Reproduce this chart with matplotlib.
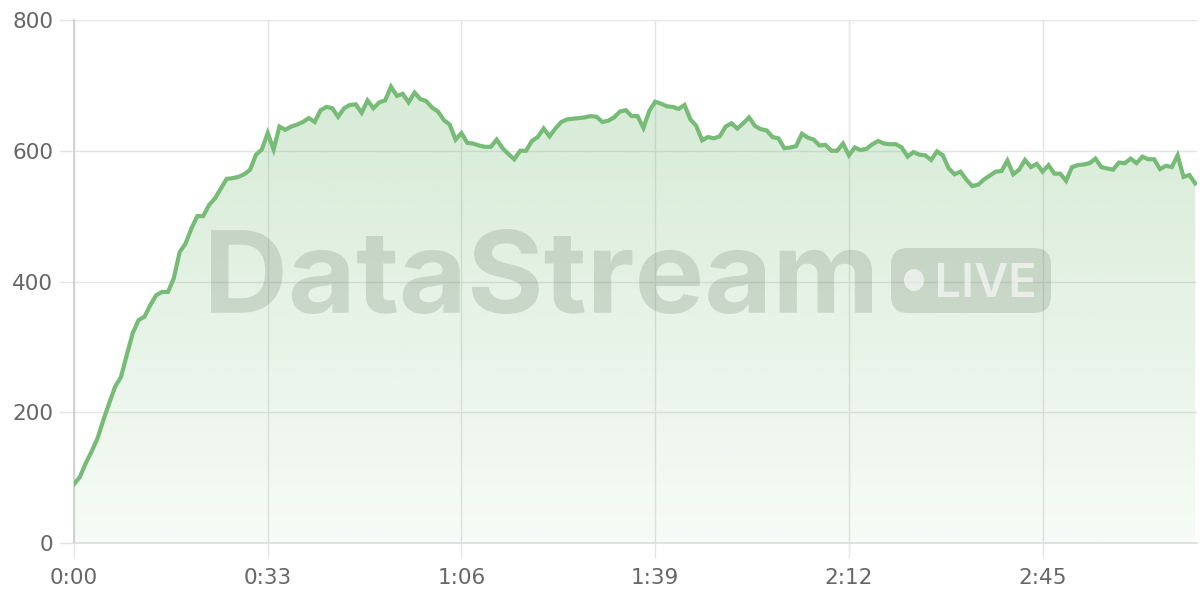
import numpy as np
import matplotlib.pyplot as plt
from matplotlib.patches import FancyBboxPatch, Ellipse, PathPatch
from matplotlib.textpath import TextPath
from matplotlib.font_manager import FontProperties
from matplotlib.transforms import Affine2D
from matplotlib.ticker import FuncFormatter

# one reading per second, 0:00 .. 3:11
values = [
    90, 101, 122, 140, 160, 188, 214, 239, 254, 288,
    321, 341, 346, 364, 379, 384, 384, 405, 445, 458,
    481, 500, 500, 517, 527, 542, 557, 558, 560, 564,
    571, 594, 602, 627, 602, 637, 632, 637, 640, 644,
    650, 644, 662, 667, 665, 652, 665, 670, 671, 658,
    677, 665, 674, 677, 698, 684, 687, 674, 689, 679,
    676, 666, 660, 647, 640, 617, 627, 612, 611, 608,
    606, 606, 617, 604, 595, 587, 600, 600, 615, 621,
    634, 622, 634, 644, 648, 649, 650, 651, 653, 652,
    644, 646, 651, 660, 662, 653, 653, 635, 661, 675,
    672, 668, 667, 664, 670, 648, 638, 616, 621, 619,
    622, 637, 642, 634, 642, 651, 638, 633, 631, 621,
    619, 604, 605, 607, 626, 620, 617, 608, 609, 600,
    600, 611, 593, 605, 601, 603, 610, 615, 611, 610,
    610, 605, 591, 598, 594, 593, 586, 599, 593, 573,
    564, 568, 556, 546, 548, 556, 562, 568, 569, 585,
    564, 571, 586, 575, 580, 568, 578, 565, 565, 554,
    575, 578, 579, 581, 588, 575, 573, 571, 582, 581,
    588, 581, 591, 587, 587, 572, 577, 575, 593, 560,
    563, 550,
]
seconds = np.arange(len(values))
x_ticks = [0, 33, 66, 99, 132, 165]
y_ticks = [0, 200, 400, 600, 800]

line_color = "#76bb76"
grid_color = "#e4e4e4"
label_color = "#666666"

W, H = 1200, 600
fig = plt.figure(figsize=(12, 6), dpi=100)
ax = fig.add_axes([74 / W, 57 / H, 1123 / W, 523 / H])

ax.set_xlim(0, 191.3)
ax.set_ylim(0, 800)

# gradient fill under the line
ymax = max(values)
grad = np.zeros((256, 1, 4))
grad[:, 0, 0] = 0x76 / 255
grad[:, 0, 1] = 0xbb / 255
grad[:, 0, 2] = 0x76 / 255
grad[:, 0, 3] = np.linspace(0.06, 0.30, 256)
img = ax.imshow(grad, aspect="auto", origin="lower",
                extent=[0, seconds[-1], 0, ymax], zorder=1)
poly = ax.fill_between(seconds, values, 0, color="none")
img.set_clip_path(poly.get_paths()[0], transform=ax.transData)

ax.plot(seconds, values, color=line_color, lw=3, zorder=3,
        solid_joinstyle="miter")

# grid and axes look
ax.set_xticks(x_ticks)
ax.set_yticks(y_ticks)
ax.xaxis.set_major_formatter(FuncFormatter(lambda v, p: f"{int(v) // 60}:{int(v) % 60:02d}"))
ax.grid(True, color=grid_color, lw=1, zorder=0)
for s in ["top", "right"]:
    ax.spines[s].set_visible(False)
ax.spines["left"].set_color("#cccccc")
ax.spines["bottom"].set_color("#dddddd")
ax.spines["left"].set_linewidth(1.2)
ax.spines["bottom"].set_linewidth(1.2)
ax.tick_params(axis="both", colors=grid_color, length=11, width=1,
               labelcolor=label_color, labelsize=15.5)
ax.tick_params(axis="y", pad=4)
ax.tick_params(axis="x", pad=7)
ax.set_axisbelow(True)


def fitted_text(s, x0, y0, x1, y1, weight="bold"):
    # text outline scaled to fill a pixel box (y measured from the top)
    tp = TextPath((0, 0), s, size=100, prop=FontProperties(family="Inter", weight=weight))
    ext = tp.get_extents()
    sx = (x1 - x0) / ext.width
    sy = (y1 - y0) / ext.height
    tr = (Affine2D().translate(-ext.x0, -ext.y0).scale(sx, sy)
          .translate(x0, H - y1))
    return tr.transform_path(tp)


# watermark
wm = "#667766"
wm_alpha = 0.22
to_fig = Affine2D().scale(1 / W, 1 / H) + fig.transFigure
fig.patches.append(PathPatch(fitted_text("DataStream", 211, 229, 872, 314),
                             transform=to_fig, facecolor=wm, alpha=wm_alpha,
                             edgecolor="none", zorder=5))
fig.patches.append(FancyBboxPatch((891, H - 313), 160, 65,
                                  boxstyle="round,pad=0,rounding_size=17",
                                  transform=to_fig, facecolor=wm, alpha=wm_alpha,
                                  edgecolor="none", zorder=5))
fig.patches.append(Ellipse((914, H - 280), 20, 22, transform=to_fig,
                           facecolor="white", alpha=0.6, edgecolor="none", zorder=6))
fig.patches.append(PathPatch(fitted_text("LIVE", 938, 263, 1034, 297, weight="semibold"),
                             transform=to_fig, facecolor="white", alpha=0.6,
                             edgecolor="none", zorder=6))

fig.savefig("out.png", dpi=100)
